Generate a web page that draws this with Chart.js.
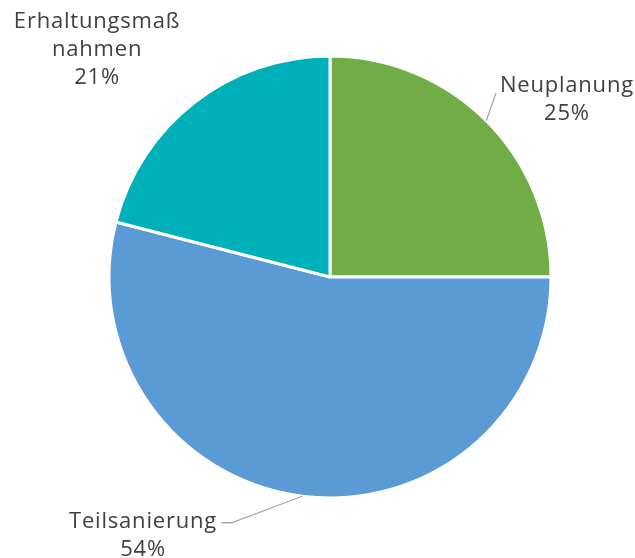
<!DOCTYPE html>
<html>
<head>
<meta charset="utf-8">
<script src="https://cdn.jsdelivr.net/npm/chart.js@4/dist/chart.umd.min.js"></script>
<style>
  html, body { margin: 0; padding: 0; background: #ffffff; }
  #wrap { width: 635px; height: 558px; position: relative; }
</style>
</head>
<body>
<div id="wrap"><canvas id="c" width="635" height="558"></canvas></div>
<script>
// Project types by share
const categories = ['Neuplanung', 'Teilsanierung', 'Erhaltungsmaß\nnahmen'];
const shares = [25, 54, 21];
const colors = ['#70AD47', '#5B9BD5', '#00B0B9'];

// Label placement: offset of the text block centre from the pie centre (in radii),
// and optional leader line bend point (in radii) — null means no leader.
const labelOffsets = [[1.072, -0.80], [-0.846, 1.172], [-1.054, -1.027]];
const leaderBends = [[0.751, -0.833], [-0.445, 1.112], null];
const leaderTails = [null, [-0.49, 1.112], null];

const labelPlugin = {
  id: 'outsideLabels',
  afterDatasetsDraw(chart) {
    const ctx = chart.ctx;
    const meta = chart.getDatasetMeta(0);
    ctx.save();
    ctx.font = '22px "Open Sans", "Noto Sans", sans-serif';
    ctx.letterSpacing = '0.8px';
    ctx.fillStyle = '#404040';
    ctx.textAlign = 'center';
    ctx.textBaseline = 'middle';
    meta.data.forEach((arc, i) => {
      const { x, y, outerRadius: r, startAngle, endAngle } = arc.getProps(['x', 'y', 'outerRadius', 'startAngle', 'endAngle'], true);
      const mid = (startAngle + endAngle) / 2;
      const lines = categories[i].split('\n');
      lines.push(shares[i] + '%');
      const lh = 28;
      const cx = x + labelOffsets[i][0] * r;
      const cy = y + labelOffsets[i][1] * r;
      const top = cy - (lines.length - 1) * lh / 2;
      lines.forEach((t, k) => ctx.fillText(t, cx, top + k * lh));
      if (leaderBends[i]) {
        ctx.strokeStyle = '#A6A6A6';
        ctx.lineWidth = 1.3;
        ctx.beginPath();
        ctx.moveTo(x + Math.cos(mid) * r, y + Math.sin(mid) * r);
        ctx.lineTo(x + leaderBends[i][0] * r, y + leaderBends[i][1] * r);
        if (leaderTails[i]) ctx.lineTo(x + leaderTails[i][0] * r, y + leaderTails[i][1] * r);
        ctx.stroke();
      }
    });
    ctx.restore();
  }
};

new Chart(document.getElementById('c'), {
  type: 'pie',
  data: {
    labels: categories,
    datasets: [{
      data: shares,
      backgroundColor: colors,
      borderColor: '#ffffff',
      borderWidth: 3
    }]
  },
  options: {
    responsive: false,
    animation: false,
    layout: { padding: { top: 54.5, bottom: 58.5, left: 107.5, right: 82.5 } },
    plugins: { legend: { display: false }, tooltip: { enabled: false } }
  },
  plugins: [labelPlugin]
});
</script>
</body>
</html>
